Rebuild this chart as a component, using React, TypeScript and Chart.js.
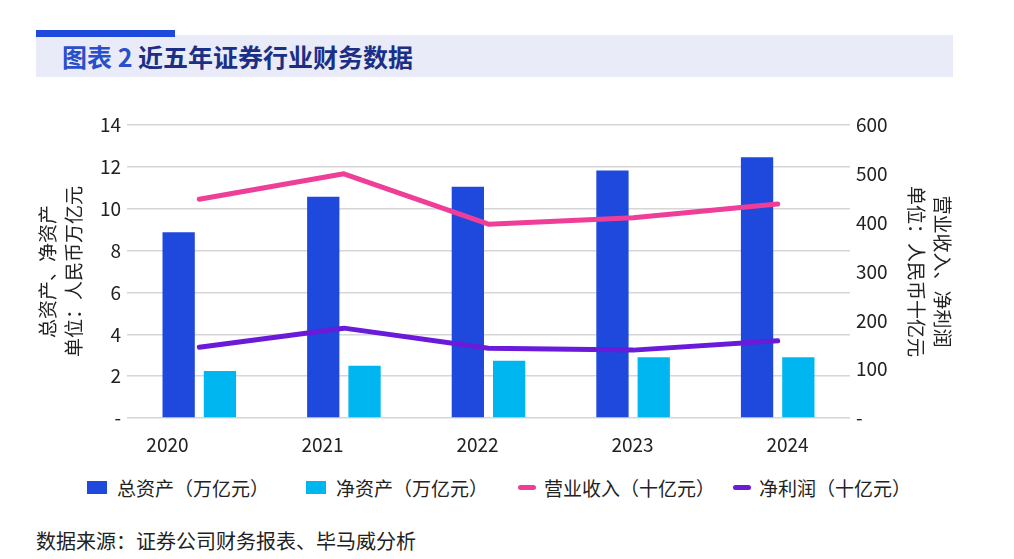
import { useEffect, useRef } from "react";
import { Chart, registerables } from "chart.js";

Chart.register(...registerables);

const years = ["2020", "2021", "2022", "2023", "2024"];
// 单位：人民币万亿元
const totalAssets = [8.87, 10.57, 11.05, 11.82, 12.46];
const netAssets = [2.25, 2.5, 2.74, 2.9, 2.9];
// 单位：人民币十亿元
const revenue = [448, 500, 397, 410, 438];
const netProfit = [145, 184, 143, 139, 158];

const leftMax = 14;
const leftStep = 2;
const rightMax = 600;
const rightStep = 100;

const seriesNames = ["总资产（万亿元）", "净资产（万亿元）", "营业收入（十亿元）", "净利润（十亿元）"];
const seriesColors = ["#1f48dc", "#00b6f0", "#ef3e98", "#6a1bd9"];
const legendLefts = [87, 306, 518, 733];

// the year labels in the original sit a little off the bar groups
const labelMin = -0.261;
const labelMax = 4.403;

const FONT = "'Noto Sans CJK SC', 'Noto Sans', sans-serif";
const TEXT = "#222";

const ChartBox = () => {
  const chartRef = useRef<HTMLCanvasElement>(null);

  useEffect(() => {
    const ctx = chartRef.current?.getContext("2d");
    if (!ctx) return;

    const dash = (v: number | string) => (Number(v) === 0 ? "-" : String(v));

    const chart = new Chart(ctx, {
      type: "bar",
      data: {
        labels: years,
        datasets: [
          {
            type: "line",
            label: seriesNames[2],
            data: revenue,
            yAxisID: "y1",
            borderColor: seriesColors[2],
            backgroundColor: seriesColors[2],
            borderWidth: 5,
            borderCapStyle: "round",
            borderJoinStyle: "round",
            pointRadius: 0,
            tension: 0,
            order: 0,
          },
          {
            type: "line",
            label: seriesNames[3],
            data: netProfit,
            yAxisID: "y1",
            borderColor: seriesColors[3],
            backgroundColor: seriesColors[3],
            borderWidth: 5,
            borderCapStyle: "round",
            borderJoinStyle: "round",
            pointRadius: 0,
            tension: 0,
            order: 0,
          },
          {
            label: seriesNames[0],
            data: totalAssets,
            yAxisID: "y",
            backgroundColor: seriesColors[0],
            categoryPercentage: 0.571,
            barPercentage: 0.782,
            order: 1,
          },
          {
            label: seriesNames[1],
            data: netAssets,
            yAxisID: "y",
            backgroundColor: seriesColors[1],
            categoryPercentage: 0.571,
            barPercentage: 0.782,
            order: 1,
          },
        ],
      },
      options: {
        animation: false,
        responsive: false,
        maintainAspectRatio: false,
        layout: { padding: { top: 25, bottom: 14, left: 0, right: 0 } },
        plugins: {
          legend: { display: false },
          tooltip: { enabled: false },
        },
        scales: {
          x: { display: false },
          xl: {
            type: "linear",
            position: "bottom",
            offset: false,
            bounds: "data",
            min: labelMin,
            max: labelMax,
            grid: { display: false, drawTicks: false, offset: false },
            border: { display: false },
            afterBuildTicks: (s: any) => {
              s.ticks = years.map((_, i) => ({ value: i }));
              s.min = labelMin;
              s.max = labelMax;
            },
            afterFit: (s: any) => {
              s.height = 38;
            },
            ticks: {
              autoSkip: false,
              maxRotation: 0,
              padding: 15,
              color: TEXT,
              font: { family: FONT, size: 19 },
              callback: (v: any) => years[Number(v)],
            },
          },
          y: {
            position: "left",
            min: 0,
            max: leftMax,
            afterFit: (s: any) => {
              s.width = 96;
            },
            grid: { color: "#d6d6d6", lineWidth: 1.5, drawTicks: false },
            border: { display: false },
            ticks: {
              stepSize: leftStep,
              padding: 6,
              color: TEXT,
              font: { family: FONT, size: 19 },
              callback: dash,
            },
            title: {
              display: true,
              text: ["总资产、净资产", "单位：人民币万亿元"],
              color: TEXT,
              font: { family: FONT, size: 19, lineHeight: 1.37 },
            },
          },
          y1: {
            position: "right",
            min: 0,
            max: rightMax,
            afterFit: (s: any) => {
              s.width = 109;
            },
            grid: { display: false, drawTicks: false },
            border: { display: false },
            ticks: {
              stepSize: rightStep,
              padding: 6,
              color: TEXT,
              font: { family: FONT, size: 19 },
              callback: dash,
            },
            title: {
              display: true,
              text: ["营业收入、净利润", "单位：人民币十亿元"],
              color: TEXT,
              font: { family: FONT, size: 19, lineHeight: 1.37 },
            },
          },
        },
      } as any,
    });

    return () => {
      chart.destroy();
    };
  }, []);

  return (
    <canvas
      ref={chartRef}
      width={928}
      height={370}
      style={{ position: "absolute", left: 31, top: 100, width: 928, height: 370 }}
    />
  );
};

const Legend = () => (
  <>
    {seriesNames.map((name, i) => (
      <div
        key={name}
        style={{
          position: "absolute",
          left: legendLefts[i],
          top: 472,
          height: 30,
          display: "flex",
          alignItems: "center",
          fontFamily: FONT,
          fontSize: 19,
          color: TEXT,
          whiteSpace: "nowrap",
        }}
      >
        {i < 2 ? (
          <span style={{ width: 20, height: 13, background: seriesColors[i], marginRight: 10 }} />
        ) : (
          <span style={{ width: 18, height: 5, borderRadius: 3, background: seriesColors[i], marginRight: 8 }} />
        )}
        <span>{name}</span>
      </div>
    ))}
  </>
);

const App = () => (
  <div style={{ position: "fixed", left: 0, top: 0, width: 1014, height: 559, background: "#fff", overflow: "hidden" }}>
    <div style={{ position: "absolute", left: 36, top: 35, width: 917, height: 42, background: "#e9ebf8" }} />
    <div style={{ position: "absolute", left: 36, top: 30, width: 139, height: 7, background: "#1f48dc" }} />
    <div
      style={{
        position: "absolute",
        left: 62,
        top: 39,
        fontFamily: FONT,
        fontWeight: 700,
        fontSize: 25,
        lineHeight: "34px",
        color: "#1b2f86",
        whiteSpace: "nowrap",
      }}
    >
      <span style={{ color: "#2a4fcb" }}>图表 2</span> 近五年证券行业财务数据
    </div>
    <ChartBox />
    <Legend />
    <div
      style={{
        position: "absolute",
        left: 36,
        top: 528,
        fontFamily: FONT,
        fontSize: 20,
        lineHeight: "26px",
        color: TEXT,
        whiteSpace: "nowrap",
      }}
    >
      数据来源：证券公司财务报表、毕马威分析
    </div>
  </div>
);

export default App;
